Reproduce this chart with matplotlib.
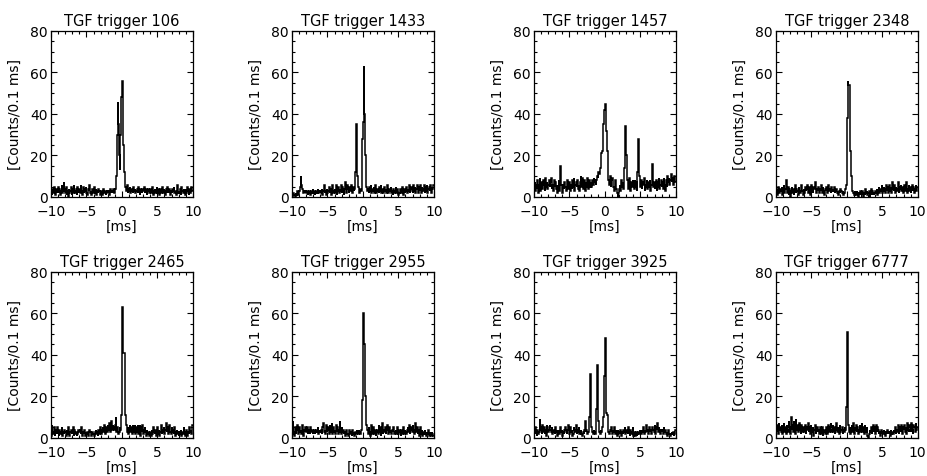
import matplotlib
matplotlib.use('Agg')
import matplotlib.pyplot as plt
import numpy as np
from matplotlib.ticker import MultipleLocator

# 0.1 ms bins from -10 to 10 ms (200 bins per trigger)
edges = np.linspace(-10, 10, 201)

triggers = ['106', '1433', '1457', '2348', '2465', '2955', '3925', '6777']

counts_106 = [
    3, 1, 4, 2, 5, 3, 1, 4, 2, 3, 5, 2, 4, 1, 3, 6, 2, 3, 7, 4,
    2, 5, 1, 3, 0, 4, 2, 3, 5, 1, 4, 2, 6, 3, 2, 4, 1, 5, 3, 2,
    4, 2, 6, 3, 1, 5, 2, 4, 3, 5, 2, 1, 4, 3, 6, 2, 3, 1, 4, 2,
    3, 5, 2, 4, 1, 3, 2, 4, 3, 1, 2, 3, 1, 2, 4, 2, 3, 1, 2, 3,
    2, 3, 1, 4, 2, 3, 3, 2, 4, 2, 4, 6, 10, 30, 46, 35, 20, 13, 30, 48,
    56, 43, 25, 12, 8, 5, 3, 6, 2, 4, 3, 5, 2, 4, 3, 2, 5, 3, 4, 2,
    3, 4, 2, 5, 3, 1, 4, 3, 2, 4, 3, 5, 2, 3, 4, 1, 3, 4, 2, 3,
    4, 2, 3, 5, 1, 3, 4, 2, 3, 5, 2, 4, 3, 1, 4, 2, 3, 5, 2, 4,
    3, 1, 4, 2, 5, 3, 2, 4, 1, 3, 2, 4, 3, 5, 2, 3, 1, 4, 6, 2,
    3, 2, 4, 1, 5, 3, 2, 4, 3, 1, 4, 2, 5, 3, 1, 4, 2, 3, 5, 3,
]

counts_1433 = [
    0, 1, 2, 1, 0, 2, 1, 3, 2, 1, 3, 5, 10, 6, 4, 3, 2, 3, 2, 3,
    2, 3, 1, 2, 3, 2, 1, 3, 2, 4, 2, 3, 1, 2, 3, 2, 4, 2, 3, 2,
    3, 2, 4, 1, 3, 6, 2, 3, 1, 4, 2, 3, 5, 2, 4, 1, 3, 6, 2, 3,
    4, 2, 6, 1, 3, 5, 2, 4, 3, 6, 2, 5, 3, 1, 4, 7, 2, 3, 6, 4,
    2, 5, 3, 6, 4, 2, 5, 3, 4, 12, 35, 25, 10, 5, 3, 2, 4, 3, 8, 28,
    36, 63, 40, 20, 10, 5, 3, 4, 2, 5, 3, 6, 2, 4, 3, 5, 2, 6, 3, 2,
    4, 3, 2, 5, 3, 6, 2, 4, 3, 2, 5, 3, 4, 2, 6, 3, 2, 4, 3, 5,
    2, 3, 1, 4, 2, 3, 5, 2, 4, 3, 1, 2, 4, 3, 2, 5, 3, 1, 4, 2,
    3, 5, 2, 4, 3, 6, 2, 3, 5, 4, 2, 6, 3, 5, 2, 4, 6, 3, 2, 5,
    3, 6, 2, 5, 4, 3, 6, 2, 5, 3, 6, 2, 4, 5, 3, 6, 2, 5, 4, 6,
]

counts_1457 = [
    5, 7, 3, 6, 4, 8, 2, 6, 9, 3, 7, 5, 4, 8, 6, 3, 9, 5, 7, 4,
    6, 8, 5, 7, 9, 4, 6, 3, 8, 5, 7, 4, 6, 2, 5, 8, 3, 15, 6, 4,
    2, 6, 4, 7, 5, 3, 6, 8, 4, 5, 7, 3, 6, 4, 8, 5, 9, 3, 6, 7,
    5, 8, 4, 6, 3, 7, 10, 5, 9, 4, 6, 8, 3, 7, 5, 9, 4, 6, 8, 5,
    7, 5, 8, 6, 9, 7, 8, 6, 8, 10, 9, 12, 11, 14, 18, 21, 22, 28, 35, 42,
    45, 40, 32, 22, 12, 8, 6, 10, 5, 8, 9, 7, 5, 3, 8, 6, 4, 2, 0, 2,
    4, 6, 3, 8, 5, 7, 4, 14, 22, 34, 20, 8, 7, 4, 9, 6, 3, 7, 5, 8,
    6, 4, 8, 5, 7, 3, 12, 28, 10, 6, 5, 8, 4, 7, 6, 9, 3, 6, 5, 8,
    4, 7, 5, 8, 3, 6, 9, 16, 5, 7, 4, 6, 8, 3, 7, 5, 9, 4, 6, 8,
    5, 7, 4, 9, 6, 3, 8, 5, 10, 7, 9, 6, 8, 11, 7, 9, 6, 8, 10, 7,
]

counts_2348 = [
    2, 4, 1, 5, 3, 2, 4, 3, 5, 1, 3, 6, 2, 4, 8, 3, 2, 5, 1, 4,
    0, 3, 5, 2, 4, 1, 3, 6, 2, 4, 3, 1, 5, 3, 2, 4, 6, 3, 1, 4,
    2, 5, 3, 4, 6, 2, 3, 5, 1, 4, 6, 3, 2, 5, 4, 7, 3, 2, 4, 3,
    5, 2, 4, 3, 6, 2, 5, 3, 1, 4, 3, 5, 2, 4, 6, 3, 4, 2, 5, 3,
    4, 3, 5, 2, 3, 4, 2, 3, 1, 3, 2, 4, 3, 2, 3, 1, 2, 3, 4, 6,
    38, 56, 54, 54, 50, 22, 10, 5, 3, 2, 1, 3, 2, 1, 3, 2, 0, 2, 1, 3,
    2, 1, 3, 0, 2, 1, 4, 2, 3, 1, 2, 3, 0, 2, 4, 1, 3, 2, 1, 2,
    3, 2, 4, 1, 3, 5, 2, 4, 3, 6, 2, 3, 5, 4, 2, 6, 3, 5, 2, 4,
    6, 3, 5, 2, 7, 4, 3, 6, 2, 5, 4, 3, 7, 2, 5, 4, 6, 3, 5, 2,
    4, 6, 3, 5, 7, 2, 4, 6, 3, 5, 2, 4, 6, 3, 5, 2, 4, 6, 3, 5,
]

counts_2465 = [
    1, 6, 3, 2, 5, 1, 4, 3, 2, 5, 3, 1, 4, 2, 3, 5, 1, 3, 2, 4,
    3, 1, 4, 2, 5, 3, 1, 3, 4, 2, 3, 5, 1, 4, 2, 3, 1, 2, 4, 3,
    3, 4, 2, 5, 1, 3, 2, 4, 1, 3, 2, 3, 1, 2, 4, 3, 2, 1, 3, 2,
    2, 1, 3, 4, 2, 3, 1, 4, 2, 5, 3, 2, 4, 5, 3, 6, 2, 4, 5, 3,
    6, 4, 7, 3, 5, 8, 4, 6, 5, 4, 6, 10, 3, 5, 4, 2, 3, 5, 4, 11,
    63, 61, 41, 41, 20, 11, 6, 3, 5, 2, 4, 6, 3, 5, 2, 6, 4, 3, 6, 2,
    5, 3, 6, 2, 4, 6, 1, 5, 3, 6, 2, 4, 5, 3, 1, 4, 2, 3, 1, 2,
    3, 1, 4, 2, 5, 3, 2, 4, 1, 3, 5, 2, 4, 1, 3, 6, 2, 4, 3, 5,
    2, 4, 7, 3, 5, 2, 4, 6, 3, 2, 5, 3, 4, 2, 5, 1, 3, 4, 2, 3,
    1, 3, 2, 4, 1, 3, 2, 5, 3, 1, 2, 4, 1, 3, 2, 5, 3, 4, 2, 6,
]

counts_2955 = [
    2, 8, 3, 1, 5, 2, 4, 6, 3, 2, 5, 3, 4, 2, 6, 3, 1, 4, 3, 5,
    3, 5, 2, 4, 3, 2, 5, 3, 4, 2, 3, 4, 2, 3, 4, 3, 5, 2, 3, 4,
    3, 4, 2, 5, 7, 3, 4, 2, 6, 3, 4, 5, 2, 6, 3, 4, 7, 2, 5, 3,
    4, 2, 6, 3, 5, 2, 4, 8, 3, 2, 5, 3, 4, 2, 3, 1, 4, 3, 2, 1,
    3, 4, 2, 3, 1, 4, 2, 3, 1, 3, 2, 4, 3, 2, 4, 3, 2, 4, 5, 18,
    60, 58, 45, 20, 10, 6, 4, 2, 5, 3, 1, 4, 6, 2, 5, 3, 2, 4, 1, 3,
    4, 2, 6, 3, 5, 1, 4, 7, 2, 4, 3, 5, 2, 4, 6, 3, 2, 5, 3, 4,
    2, 4, 3, 5, 2, 3, 4, 2, 5, 3, 2, 4, 3, 1, 4, 2, 3, 5, 2, 4,
    3, 2, 4, 5, 3, 6, 2, 4, 5, 3, 6, 4, 2, 5, 7, 3, 5, 2, 4, 1,
    3, 5, 2, 4, 1, 3, 2, 4, 2, 1, 3, 2, 4, 1, 3, 2, 1, 3, 2, 1,
]

counts_3925 = [
    4, 2, 5, 3, 1, 4, 2, 3, 9, 4, 5, 2, 6, 3, 5, 2, 4, 1, 6, 4,
    3, 5, 6, 4, 3, 5, 2, 4, 3, 2, 5, 3, 4, 1, 3, 4, 2, 5, 3, 4,
    1, 3, 2, 4, 5, 3, 2, 4, 6, 3, 2, 5, 3, 4, 1, 2, 5, 4, 3, 6,
    2, 4, 3, 5, 2, 3, 4, 2, 1, 3, 2, 4, 8, 3, 4, 2, 3, 5, 10, 31,
    12, 5, 3, 2, 4, 3, 2, 8, 14, 35, 20, 8, 3, 2, 4, 3, 5, 5, 10, 30,
    48, 20, 12, 11, 6, 3, 2, 4, 3, 5, 2, 4, 3, 5, 2, 4, 3, 1, 4, 2,
    3, 2, 4, 1, 3, 2, 4, 3, 5, 2, 4, 3, 2, 5, 3, 1, 4, 2, 3, 5,
    1, 3, 2, 1, 3, 1, 2, 3, 2, 4, 3, 2, 4, 3, 5, 2, 4, 3, 6, 3,
    4, 2, 5, 3, 4, 2, 3, 5, 4, 3, 6, 2, 5, 4, 7, 3, 5, 4, 2, 4,
    3, 4, 2, 5, 3, 4, 2, 3, 1, 4, 3, 2, 1, 2, 3, 2, 3, 1, 2, 4,
]

counts_6777 = [
    5, 3, 6, 2, 7, 4, 5, 3, 6, 2, 4, 7, 3, 5, 2, 6, 4, 3, 8, 5,
    2, 10, 4, 6, 3, 8, 5, 2, 9, 4, 6, 3, 5, 7, 4, 2, 6, 3, 5, 4,
    3, 6, 2, 5, 4, 7, 3, 5, 2, 6, 4, 3, 5, 1, 4, 6, 2, 4, 5, 3,
    4, 2, 5, 3, 2, 5, 1, 3, 4, 2, 3, 5, 2, 4, 6, 3, 5, 7, 3, 4,
    6, 3, 5, 2, 4, 7, 3, 5, 4, 2, 6, 3, 4, 5, 2, 4, 3, 5, 4, 15,
    51, 13, 6, 3, 5, 2, 4, 6, 3, 7, 2, 5, 4, 6, 3, 5, 2, 4, 6, 3,
    4, 7, 3, 5, 2, 6, 4, 3, 5, 1, 0, 2, 4, 3, 5, 2, 4, 6, 3, 5,
    2, 6, 3, 5, 4, 2, 3, 1, 4, 2, 3, 2, 4, 3, 1, 3, 2, 4, 3, 2,
    3, 1, 4, 2, 3, 2, 4, 3, 5, 2, 4, 3, 6, 2, 5, 4, 3, 6, 2, 5,
    4, 6, 3, 5, 2, 7, 4, 3, 6, 5, 3, 7, 4, 2, 6, 5, 3, 7, 4, 5,
]

all_counts = [counts_106, counts_1433, counts_1457, counts_2348,
              counts_2465, counts_2955, counts_3925, counts_6777]

plt.rcParams['font.family'] = 'DejaVu Sans'
plt.rcParams['font.size'] = 10

fig = plt.figure(figsize=(9.27, 4.77), dpi=100)

lefts = [0.055, 0.315, 0.576, 0.837]
bottoms = [0.585, 0.080]
w, h = 0.153, 0.348

for i, (trig, counts) in enumerate(zip(triggers, all_counts)):
    ax = fig.add_axes([lefts[i % 4], bottoms[i // 4], w, h])
    ax.stairs(counts, edges, color='black', lw=1.1, baseline=None)
    ax.set_xlim(-10, 10)
    ax.set_ylim(0, 80)
    ax.xaxis.set_major_locator(MultipleLocator(5))
    ax.xaxis.set_minor_locator(MultipleLocator(1))
    ax.yaxis.set_major_locator(MultipleLocator(20))
    ax.yaxis.set_minor_locator(MultipleLocator(5))
    ax.tick_params(which='both', direction='in', top=True, right=True, width=0.8)
    ax.tick_params(which='major', length=4, labelsize=10)
    ax.tick_params(axis='x', which='major', pad=5)
    ax.tick_params(axis='y', which='major', pad=2.5)
    ax.tick_params(which='minor', length=2)
    ax.set_xticks([-10, -5, 0, 5, 10])
    ax.set_xticklabels(['\u221210', '\u22125', '0', '5', '10'])
    for s in ax.spines.values():
        s.set_linewidth(0.9)
    ax.set_title('TGF trigger ' + trig, fontsize=10.5, pad=4.5)
    ax.set_xlabel('[ms]', labelpad=1)
    ax.set_ylabel('[Counts/0.1 ms]', labelpad=6)

fig.savefig('out.png', dpi=100)
